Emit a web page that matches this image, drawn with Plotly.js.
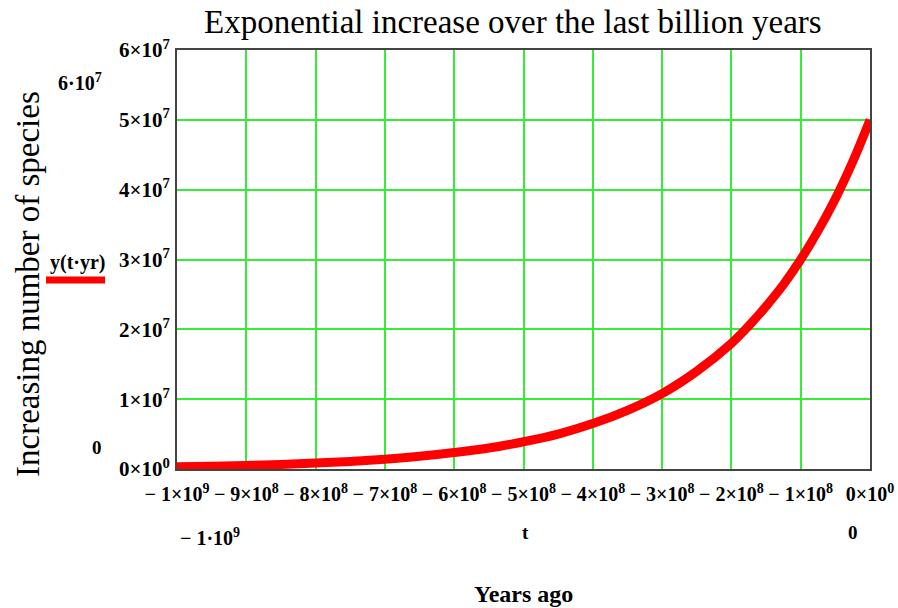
<!DOCTYPE html>
<html>
<head>
<meta charset="utf-8">
<script src="https://cdn.plot.ly/plotly-3.0.1.min.js"></script>
<style>html,body{margin:0;padding:0;background:#fff;}#chart{width:898px;height:608px;}</style>
</head>
<body>
<div id="chart"></div>
<script>
// Years (t) and number of species
const years = [-1.0e9, -0.95e9, -0.9e9, -0.85e9, -0.8e9, -0.75e9, -0.7e9, -0.65e9, -0.6e9, -0.55e9,
               -0.5e9, -0.45e9, -0.4e9, -0.35e9, -0.3e9, -0.25e9, -0.2e9, -0.175e9, -0.15e9, -0.125e9,
               -0.1e9, -0.075e9, -0.05e9, -0.025e9, 0];
const species = [3.05e5, 3.9e5, 5.1e5, 6.5e5, 8.5e5, 1.09e6, 1.41e6, 1.82e6, 2.35e6, 3.0e6,
                 3.9e6, 5.0e6, 6.5e6, 8.4e6, 1.08e7, 1.40e7, 1.80e7, 2.05e7, 2.33e7, 2.64e7,
                 3.0e7, 3.41e7, 3.87e7, 4.40e7, 5.0e7];

const NB = "\u00a0";
const xTickVals = [-1e9, -9e8, -8e8, -7e8, -6e8, -5e8, -4e8, -3e8, -2e8, -1e8, 0];
const xTickText = ["\u2212 1\u00d710<sup>9</sup>", "\u2212 9\u00d710<sup>8</sup>", "\u2212 8\u00d710<sup>8</sup>",
                   "\u2212 7\u00d710<sup>8</sup>", "\u2212 6\u00d710<sup>8</sup>", "\u2212 5\u00d710<sup>8</sup>",
                   "\u2212 4\u00d710<sup>8</sup>", "\u2212 3\u00d710<sup>8</sup>", "\u2212 2\u00d710<sup>8</sup>",
                   "\u2212 1\u00d710<sup>8</sup>", "0\u00d710<sup>0</sup>"];
const yTickVals = [0, 1e7, 2e7, 3e7, 4e7, 5e7, 6e7];
const yTickText = ["0\u00d710<sup>0</sup>", "1\u00d710<sup>7</sup>", "2\u00d710<sup>7</sup>", "3\u00d710<sup>7</sup>",
                   "4\u00d710<sup>7</sup>", "5\u00d710<sup>7</sup>", "6\u00d710<sup>7</sup>"];

const titleText = "Exponential increase over the last billion years";
const yTitleText = "Increasing number of species";
const xTitleText = "Years ago";

const L = 177, R = 870, T = 50, B = 469;
const W = 898, H = 608;
const px = x => (x - L) / (R - L);
const py = y => (B - y) / (B - T);
const serif = "Liberation Serif, Times New Roman, serif";

function ann(text, x, y, size, bold, extra) {
  return Object.assign({
    text: text, xref: "paper", yref: "paper", x: px(x), y: py(y),
    xanchor: "center", yanchor: "middle", showarrow: false,
    font: {family: serif, size: size, color: "#000", weight: bold ? "bold" : "normal"}
  }, extra || {});
}

const trace = {
  x: years, y: species, type: "scatter", mode: "lines",
  line: {color: "#ff0000", width: 9, shape: "spline"},
  hoverinfo: "skip", showlegend: false
};

const layout = {
  width: W, height: H,
  margin: {l: L, r: W - R, t: T, b: H - B},
  paper_bgcolor: "#fff", plot_bgcolor: "#fff",
  showlegend: false,
  xaxis: {
    range: [-1e9, 0], tickvals: xTickVals, ticktext: xTickText,
    showgrid: true, gridcolor: "#33ee33", gridwidth: 2, zeroline: false,
    showline: true, mirror: true, linecolor: "#444", linewidth: 2,
    ticks: "", ticklabelstandoff: 6,
    tickfont: {family: serif, size: 20, color: "#000", weight: "bold"}
  },
  yaxis: {
    range: [0, 6e7], tickvals: yTickVals, ticktext: yTickText,
    showgrid: true, gridcolor: "#33ee33", gridwidth: 2, zeroline: false,
    showline: true, mirror: true, linecolor: "#444", linewidth: 2,
    ticks: "", ticklabelstandoff: 1,
    tickfont: {family: serif, size: 21, color: "#000", weight: "bold"}
  },
  annotations: [
    ann(titleText, 513, 22, 33, false),
    ann(yTitleText, 28, 284, 33, false, {textangle: -90}),
    ann(xTitleText, 523, 594, 24, true),
    ann("6\u00b710<sup>7</sup>", 80, 82, 20, true),
    ann("0", 97, 447, 19, true),
    ann("y(t\u00b7yr)", 78, 262, 20, true),
    ann("\u2212 1\u00b710<sup>9</sup>", 210, 537, 20, true),
    ann("t", 525, 532, 19, true),
    ann("0", 853, 532, 19, true)
  ],
  shapes: [
    {type: "line", xref: "paper", yref: "paper", x0: px(46), x1: px(105), y0: py(280), y1: py(280),
     line: {color: "#ff0000", width: 7}}
  ]
};

Plotly.newPlot("chart", [trace], layout, {displayModeBar: false, staticPlot: true});
</script>
</body>
</html>
